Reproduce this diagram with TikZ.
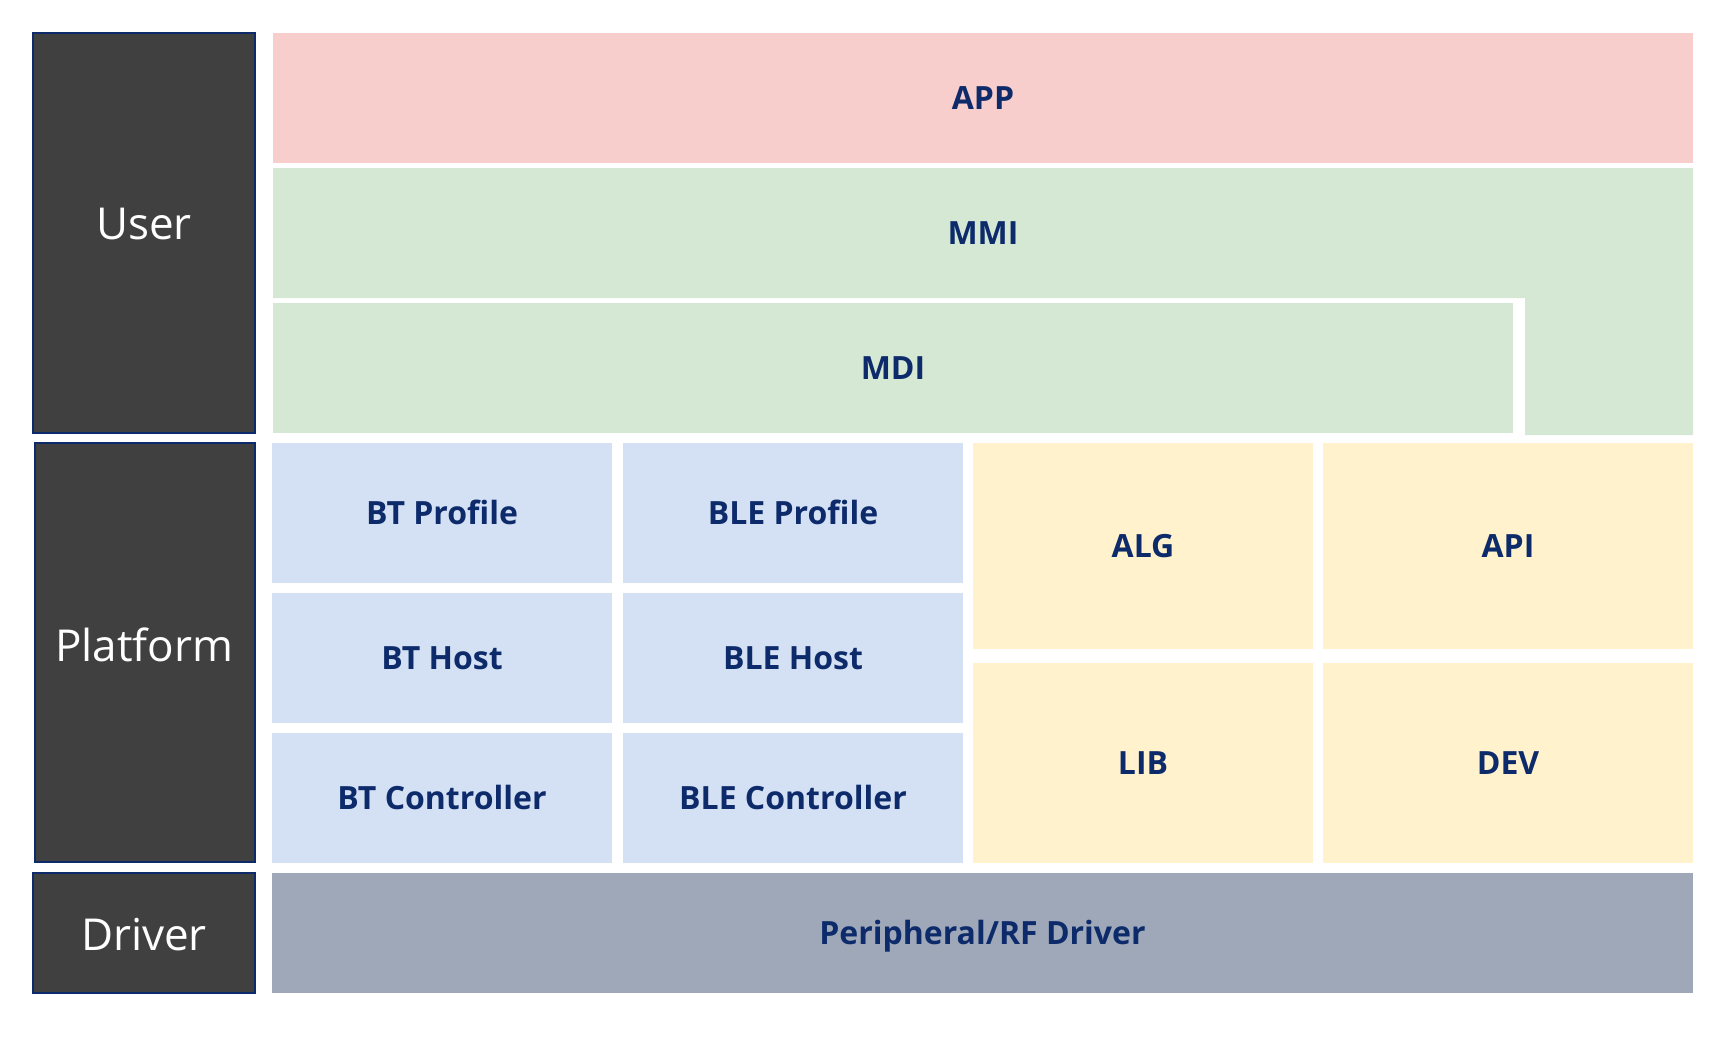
\documentclass[tikz,border=0pt]{standalone}
\usepackage{fontspec}
\setmainfont{Open Sans}
\definecolor{navy}{HTML}{0D2B6B}
\definecolor{darkbox}{HTML}{404040}
\definecolor{appc}{HTML}{F8CECC}
\definecolor{greenc}{HTML}{D5E8D4}
\definecolor{bluec}{HTML}{D4E0F3}
\definecolor{yellowc}{HTML}{FFF2CC}
\definecolor{drvc}{HTML}{9FA8B9}
\tikzset{
  blockbase/.style={anchor=north west, inner sep=0pt, outer sep=0pt},
  blocktext/.style={font=\fontsize{32}{38}\selectfont\bfseries, text=navy,
    text height=23pt, text depth=0pt},
  side/.style={blockbase, fill=darkbox, draw=navy, line width=2pt},
  sidetext/.style={text=white, font=\fontsize{44}{52}\selectfont,
    text height=31pt, text depth=0pt, inner sep=0pt},
}
\newcommand\blk[7]{%
  \node[blockbase,blocktext,#6,minimum width={(#4-#2)*1pt},minimum height={(#5-#3)*1pt}]
    (#1) at (#2,#3) {#7};}
\begin{document}
\begin{tikzpicture}[x=1pt,y=-1pt]
\useasboundingbox (0,0) rectangle (1728,1036);
% side labels
\node[side,minimum width=222pt,minimum height=400pt] (user) at (33,33) {};
\node[sidetext] (userlbl) at (144,224) {User};
\node[side,minimum width=220pt,minimum height=419pt] (platform) at (35,443) {};
\node[sidetext] (platlbl) at (144,646) {Platform};
\node[side,minimum width=222pt,minimum height=120pt] (driver) at (33,873) {};
\node[sidetext] (drvlbl) at (144,935) {Driver};
% user layers
\blk{app}{273}{33}{1693}{163}{fill=appc}{APP}
\fill[greenc] (273,168) -- (1693,168) -- (1693,435) -- (1525,435) -- (1525,298) -- (273,298) -- cycle;
\node[blocktext] (mmi) at (983,233) {MMI};
\blk{mdi}{273}{303}{1513}{433}{fill=greenc}{MDI}
% platform
\blk{btprof}{272}{443}{612}{583}{fill=bluec}{BT Profile}
\blk{bleprof}{623}{443}{963}{583}{fill=bluec}{BLE Profile}
\blk{bthost}{272}{593}{612}{723}{fill=bluec}{BT Host}
\blk{blehost}{623}{593}{963}{723}{fill=bluec}{BLE Host}
\blk{btctrl}{272}{733}{612}{863}{fill=bluec}{BT Controller}
\blk{blectrl}{623}{733}{963}{863}{fill=bluec}{BLE Controller}
\blk{alg}{973}{443}{1313}{649}{fill=yellowc}{ALG}
\blk{api}{1323}{443}{1693}{649}{fill=yellowc}{API}
\blk{lib}{973}{663}{1313}{863}{fill=yellowc}{LIB}
\blk{dev}{1323}{663}{1693}{863}{fill=yellowc}{DEV}
% driver
\blk{periph}{272}{873}{1693}{993}{fill=drvc}{Peripheral/RF Driver}
\end{tikzpicture}
\end{document}
